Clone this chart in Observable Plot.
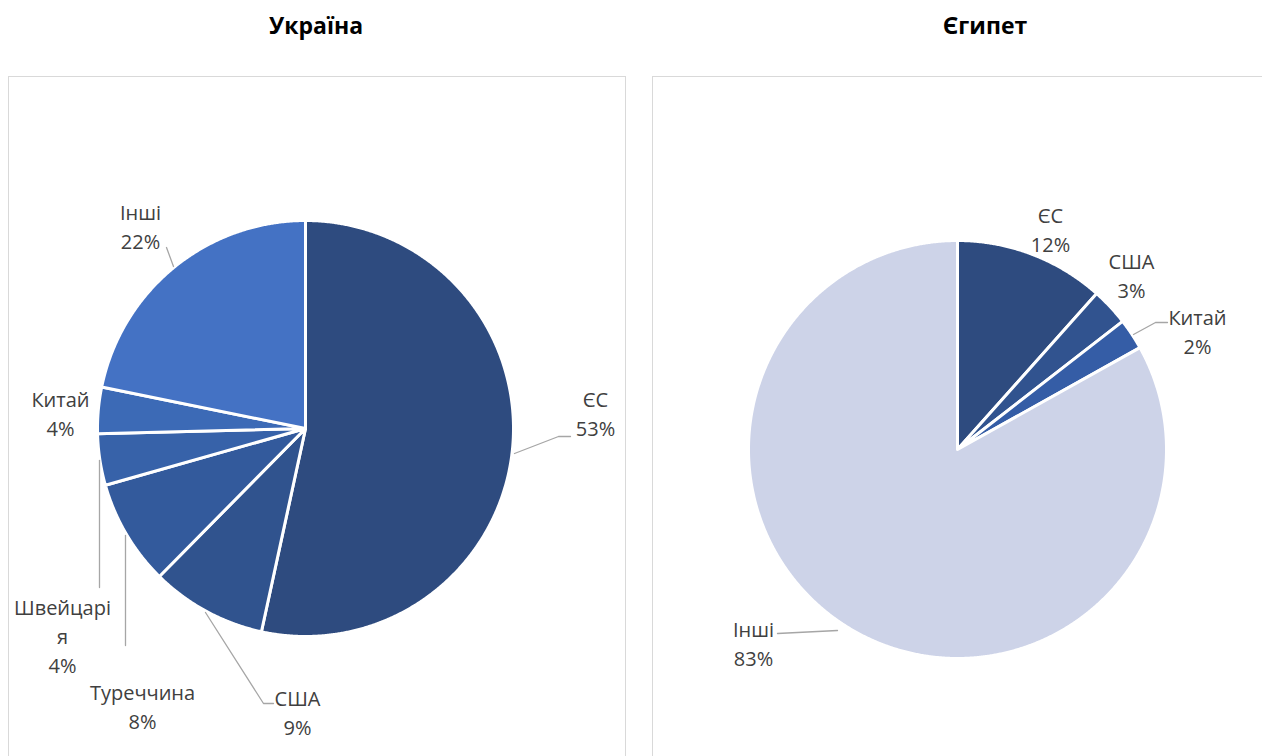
<!DOCTYPE html>
<html><head><meta charset="utf-8">
<script src="https://cdn.jsdelivr.net/npm/d3@7"></script>
<script src="https://cdn.jsdelivr.net/npm/@observablehq/plot@0.6"></script>
<style>
body{margin:0;width:1262px;height:756px;overflow:hidden;background:#fff;font-family:"Open Sans",sans-serif;position:relative}
.title{position:absolute;top:9px;font-weight:700;font-size:23px;color:#000;text-align:center;width:300px}
.box{position:absolute;top:76px;border:1px solid #d9d9d9;height:760px;box-sizing:border-box}
.chart{position:absolute;top:77px}
</style></head><body>
<div class="title" style="left:166px">Україна</div>
<div class="title" style="left:835px">Єгипет</div>
<div class="box" style="left:8px;width:618px"></div>
<div class="box" style="left:652px;width:640px"></div>
<div class="chart" id="ukr" style="left:9px"></div>
<div class="chart" id="egy" style="left:653px"></div>
<script>
// ---- data ----
const ukrCategories = ["ЄС", "США", "Туреччина", "Швейцарія", "Китай", "Інші"];
const ukrLabelNames = ["ЄС", "США", "Туреччина", "Швейцарі\nя", "Китай", "Інші"];
const ukrValues = [53.4, 9.0, 8.2, 4.0, 3.6, 21.8];
const ukrColors = ["#2e4b7f", "#30538e", "#335a9c", "#3762a9", "#3c6ab6", "#4472c4"];

const egyCategories = ["ЄС", "США", "Китай", "Інші"];
const egyLabelNames = ["ЄС", "США", "Китай", "Інші"];
const egyValues = [11.6, 2.9, 2.4, 83.1];
const egyColors = ["#2e4b7f", "#31538f", "#355da6", "#cdd3e8"];

// ---- layout (label block centres and leader paths relative to pie centre) ----
const ukrLayout = {
  W: 615, H: 679, cx: 296, cy: 351, r: 208,
  labels: [[290, -16], [-8, 283], [-163, 277], [-243, 206], [-245, -16], [-165, -203]],
  leaders: [
    [[209, 25], [253, 8], [265, 8]],
    [[-100, 184], [-42, 275], [-32, 275]],
    [[-180, 107], [-180, 217]],
    [[-206, 32], [-206, 159]],
    null,
    [[-139, -181], [-132, -162]]
  ]
};
const egyLayout = {
  W: 609, H: 679, cx: 304, cy: 372, r: 209,
  labels: [[93, -221], [174, -175], [240, -119], [-204, 193]],
  leaders: [null, null,
    [[176, -115], [198, -127], [210, -127]],
    [[-180, 184], [-120, 181]]
  ]
};

function pieChart(cats, names, values, colors, L) {
  const arcs = d3.pie().sort(null).value(d => d)(values);
  const pts = [];
  arcs.forEach((a, i) => {
    pts.push({k: cats[i], c: colors[i], x: L.cx, y: L.cy});
    const n = Math.max(2, Math.ceil((a.endAngle - a.startAngle) / 0.005));
    for (let j = 0; j <= n; j++) {
      const t = a.startAngle + (a.endAngle - a.startAngle) * j / n;
      pts.push({k: cats[i], c: colors[i], x: L.cx + L.r * Math.sin(t), y: L.cy - L.r * Math.cos(t)});
    }
  });
  const labels = arcs.map((a, i) => ({
    x: L.cx + L.labels[i][0], y: L.cy + L.labels[i][1],
    t: names[i] + "\n" + Math.round(values[i]) + "%"
  }));
  const leaders = [];
  L.leaders.forEach((p, i) => {
    if (!p) return;
    p.forEach(q => leaders.push({k: cats[i], x: L.cx + q[0], y: L.cy + q[1]}));
  });
  return Plot.plot({
    width: L.W, height: L.H, margin: 0,
    style: {fontFamily: "'Open Sans', sans-serif", background: "transparent"},
    x: {domain: [0, L.W], range: [0, L.W], axis: null},
    y: {domain: [0, L.H], range: [0, L.H], axis: null},
    color: {type: "identity"},
    marks: [
      Plot.line(pts, {x: "x", y: "y", z: "k", fill: "c", stroke: "#ffffff", strokeWidth: 3, strokeLinejoin: "round", curve: "linear-closed"}),
      Plot.line(leaders, {x: "x", y: "y", z: "k", stroke: "#a6a6a6", strokeWidth: 1.3}),
      Plot.text(labels, {x: "x", y: "y", text: "t", textAnchor: "middle", lineAnchor: "middle", lineHeight: 1.45, fontSize: 20, fill: "#404040"})
    ]
  });
}

document.getElementById("ukr").appendChild(pieChart(ukrCategories, ukrLabelNames, ukrValues, ukrColors, ukrLayout));
document.getElementById("egy").appendChild(pieChart(egyCategories, egyLabelNames, egyValues, egyColors, egyLayout));
</script>
</body></html>
